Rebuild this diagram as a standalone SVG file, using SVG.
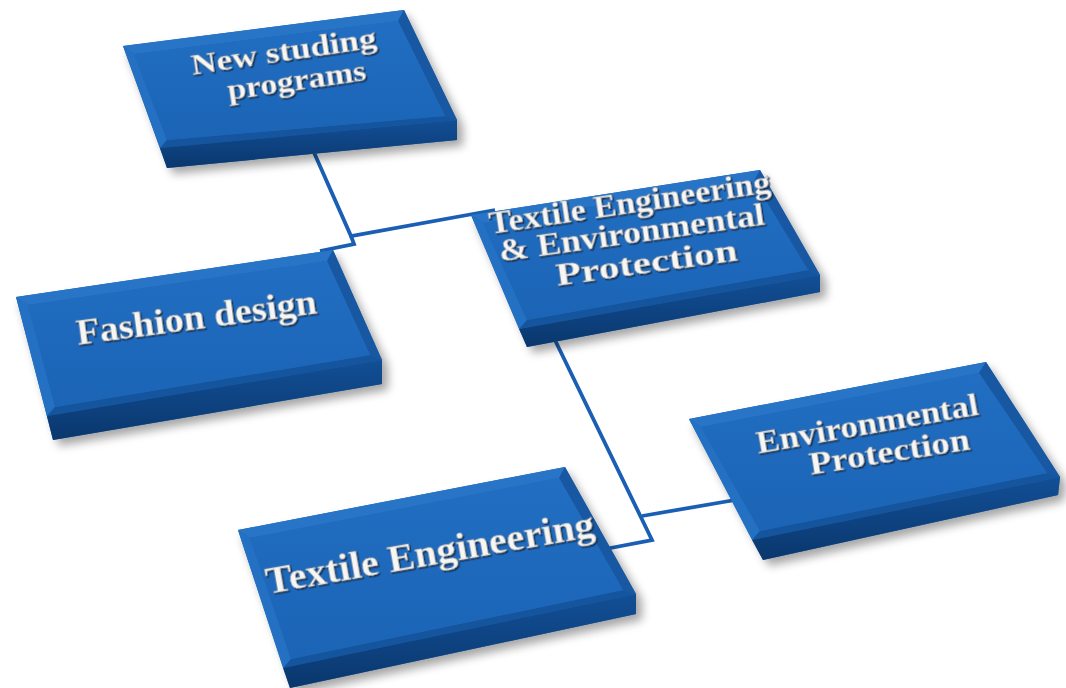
<svg xmlns="http://www.w3.org/2000/svg" width="1066" height="688" viewBox="0 0 1066 688">
<defs>
<filter id="shadow" x="-20%" y="-20%" width="140%" height="140%"><feGaussianBlur stdDeviation="5"/></filter>
<filter id="ts" x="-10%" y="-30%" width="120%" height="160%"><feDropShadow dx="1.2" dy="1.6" stdDeviation="0.7" flood-color="#10233f" flood-opacity="0.9"/></filter>
<linearGradient id="front" x1="0" y1="0" x2="0" y2="1"><stop offset="0" stop-color="#124f96"/><stop offset="1" stop-color="#0a376d"/></linearGradient>
<linearGradient id="faceg" x1="0" y1="0" x2="0" y2="1"><stop offset="0" stop-color="#216ec2"/><stop offset="1" stop-color="#1b64b6"/></linearGradient>
</defs>
<style>
.sh{fill:#000;opacity:0.35;filter:url(#shadow)}
.face{fill:#1d67ba}
.in{fill:url(#faceg)}
.bt{fill:#2874c6}
.bl{fill:#2470c3}
.br{fill:#1858a2}
.bb{fill:#15559e}
.fr{fill:url(#front)}
.lbl{font-family:"Liberation Serif","DejaVu Serif",serif;font-weight:bold;fill:#f6f6f4;stroke:#8a9098;stroke-width:0.5;text-anchor:middle;filter:url(#ts)}
.con{fill:none;stroke:#1a5fb3;stroke-width:3.8;stroke-linejoin:miter}
</style>
<g id="connectors">
<path class="con" d="M312,148 L351,236 L495,210"/>
<path class="con" d="M351,236 L354,244 L320,251"/>
<path class="con" d="M553,336 L652,540 L600,550"/>
<path class="con" d="M642,516 L735,500"/>
</g>
<g id="node-new">
<polygon class="sh" points="127,52 408,16 463,126 463,146 173,174"/>
<polygon class="face" points="123,46 404,10 457,120 457,140 167,168"/>
<polygon class="bt" points="123,46 404,10 398,21 134,54"/>
<polygon class="bl" points="123,46 134,54 167,140 160,148"/>
<polygon class="br" points="404,10 457,120 445,116 398,21"/>
<polygon class="bb" points="160,148 167,140 445,116 457,120"/>
<polygon class="in" points="134,54 398,21 445,116 167,140"/>
<polygon class="fr" points="160,148 457,120 457,140 167,168"/>
<text class="lbl" font-size="30" textLength="187" lengthAdjust="spacingAndGlyphs" transform="rotate(-8.5 285 61)" x="285" y="61">New studing</text>
<text class="lbl" font-size="30" textLength="140" lengthAdjust="spacingAndGlyphs" transform="rotate(-8.3 298 90)" x="298" y="90">programs</text>
</g>
<g id="node-fashion">
<polygon class="sh" points="20,303 337,256 388,366 388,390 59,446"/>
<polygon class="face" points="16,297 333,250 382,360 382,384 53,440"/>
<polygon class="bt" points="16,297 333,250 327,261 28,305"/>
<polygon class="bl" points="16,297 28,305 55,407 47,416"/>
<polygon class="br" points="333,250 382,360 370,355 327,261"/>
<polygon class="bb" points="47,416 55,407 370,355 382,360"/>
<polygon class="in" points="28,305 327,261 370,355 55,407"/>
<polygon class="fr" points="47,416 382,360 382,384 53,440"/>
<text class="lbl" font-size="35" textLength="242" lengthAdjust="spacingAndGlyphs" transform="rotate(-7.5 198 329)" x="198" y="329">Fashion design</text>
</g>
<g id="node-te-ep">
<polygon class="sh" points="475,221 764,176 826,281 826,298 533,353"/>
<polygon class="face" points="471,215 760,170 820,275 820,292 527,347"/>
<polygon class="bt" points="471,215 760,170 754,181 483,223"/>
<polygon class="bl" points="471,215 483,223 527,320 519,329"/>
<polygon class="br" points="760,170 820,275 808,270 754,181"/>
<polygon class="bb" points="519,329 527,320 808,270 820,275"/>
<polygon class="in" points="483,223 754,181 808,270 527,320"/>
<polygon class="fr" points="519,329 820,275 820,292 527,347"/>
<text class="lbl" font-size="31" textLength="284" lengthAdjust="spacingAndGlyphs" transform="rotate(-8.5 631 213)" x="631" y="213">Textile Engineering</text>
<text class="lbl" font-size="31" textLength="268" lengthAdjust="spacingAndGlyphs" transform="rotate(-8 633 243)" x="633" y="243">&amp; Environmental</text>
<text class="lbl" font-size="31" textLength="183" lengthAdjust="spacingAndGlyphs" transform="rotate(-8 648 273)" x="648" y="273">Protection</text>
</g>
<g id="node-ep">
<polygon class="sh" points="693,425 990,368 1066,483 1064,501 769,566"/>
<polygon class="face" points="689,419 986,362 1060,477 1058,495 763,560"/>
<polygon class="bt" points="689,419 986,362 979,373 701,427"/>
<polygon class="bl" points="689,419 701,427 760,531 752,540"/>
<polygon class="br" points="986,362 1060,477 1047,473 979,373"/>
<polygon class="bb" points="752,540 760,531 1047,473 1060,477"/>
<polygon class="in" points="701,427 979,373 1047,473 760,531"/>
<polygon class="fr" points="752,540 1060,477 1058,495 763,560"/>
<text class="lbl" font-size="32" textLength="225" lengthAdjust="spacingAndGlyphs" transform="rotate(-10 869 434)" x="869" y="434">Environmental</text>
<text class="lbl" font-size="32" textLength="162" lengthAdjust="spacingAndGlyphs" transform="rotate(-9 891 462)" x="891" y="462">Protection</text>
</g>
<g id="node-te">
<polygon class="sh" points="242,536 569,473 642,600 642,620 296,694"/>
<polygon class="face" points="238,530 565,467 636,594 636,614 290,688"/>
<polygon class="bt" points="238,530 565,467 559,478 250,538"/>
<polygon class="bl" points="238,530 250,538 291,659 283,668"/>
<polygon class="br" points="565,467 636,594 623,590 559,478"/>
<polygon class="bb" points="283,668 291,659 623,590 636,594"/>
<polygon class="in" points="250,538 559,478 623,590 291,659"/>
<polygon class="fr" points="283,668 636,594 636,614 290,688"/>
<text class="lbl" font-size="37" textLength="333" lengthAdjust="spacingAndGlyphs" transform="rotate(-10 432 565)" x="432" y="565">Textile Engineering</text>
</g>
</svg>
